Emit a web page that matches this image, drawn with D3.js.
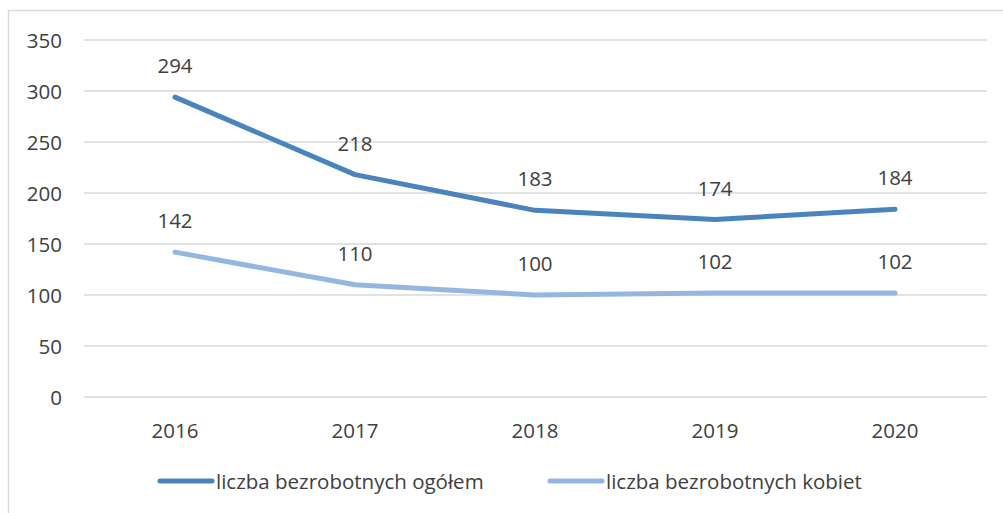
<!DOCTYPE html>
<html>
<head>
<meta charset="utf-8">
<script src="https://cdn.jsdelivr.net/npm/d3@7"></script>
<style>
  body { margin: 0; background: #fff; }
  text { font-family: "Open Sans", sans-serif; fill: #404040; font-size: 20.5px; }
</style>
</head>
<body>
<script>
// data
var years = ["2016", "2017", "2018", "2019", "2020"];
var ogolem = [294, 218, 183, 174, 184];
var kobiety = [142, 110, 100, 102, 102];
var seriesNames = ["liczba bezrobotnych ogółem", "liczba bezrobotnych kobiet"];
var yTicks = [0, 50, 100, 150, 200, 250, 300, 350];

var width = 1003, height = 513;
var colors = ["#4a84bd", "#95b7df"];

var svg = d3.select("body").append("svg")
    .attr("width", width)
    .attr("height", height);

// chart border
svg.append("rect")
    .attr("x", 8.5).attr("y", 10.5)
    .attr("width", 1010).attr("height", 520)
    .attr("fill", "none")
    .attr("stroke", "#d9d9d9")
    .attr("stroke-width", 1.5);

var x = d3.scaleBand()
    .domain(years)
    .range([85, 985]);

var y = d3.scaleLinear()
    .domain([0, 350])
    .range([397, 40]);

// gridlines
svg.append("g")
    .selectAll("line")
    .data(yTicks)
    .enter().append("line")
    .attr("x1", 84).attr("x2", 987)
    .attr("y1", function (d) { return y(d); })
    .attr("y2", function (d) { return y(d); })
    .attr("stroke", "#d9d9d9")
    .attr("stroke-width", 1.5);

// y labels
svg.append("g")
    .selectAll("text")
    .data(yTicks)
    .enter().append("text")
    .attr("x", 62)
    .attr("y", function (d) { return y(d) + 7.5; })
    .attr("text-anchor", "end")
    .text(function (d) { return d; });

// x labels
svg.append("g")
    .selectAll("text")
    .data(years)
    .enter().append("text")
    .attr("x", function (d) { return x(d) + x.bandwidth() / 2; })
    .attr("y", 438)
    .attr("text-anchor", "middle")
    .text(function (d) { return d; });

var line = d3.line()
    .x(function (d, i) { return x(years[i]) + x.bandwidth() / 2; })
    .y(function (d) { return y(d); });

[ogolem, kobiety].forEach(function (vals, k) {
    svg.append("path")
        .datum(vals)
        .attr("d", line)
        .attr("fill", "none")
        .attr("stroke", colors[k])
        .attr("stroke-width", 5)
        .attr("stroke-linecap", "round")
        .attr("stroke-linejoin", "round");

    svg.append("g")
        .selectAll("text")
        .data(vals)
        .enter().append("text")
        .attr("x", function (d, i) { return x(years[i]) + x.bandwidth() / 2; })
        .attr("y", function (d) { return y(d) - 24; })
        .attr("text-anchor", "middle")
        .text(function (d) { return d; });
});

// legend
var legendX = [158, 548];
seriesNames.forEach(function (name, k) {
    var lg = svg.append("g").attr("transform", "translate(" + legendX[k] + ",481)");
    lg.append("line")
        .attr("x1", 2).attr("x2", 54)
        .attr("stroke", colors[k])
        .attr("stroke-width", 5)
        .attr("stroke-linecap", "round");
    lg.append("text")
        .attr("x", 58).attr("y", 7.5)
        .text(name);
});
</script>
</body>
</html>
